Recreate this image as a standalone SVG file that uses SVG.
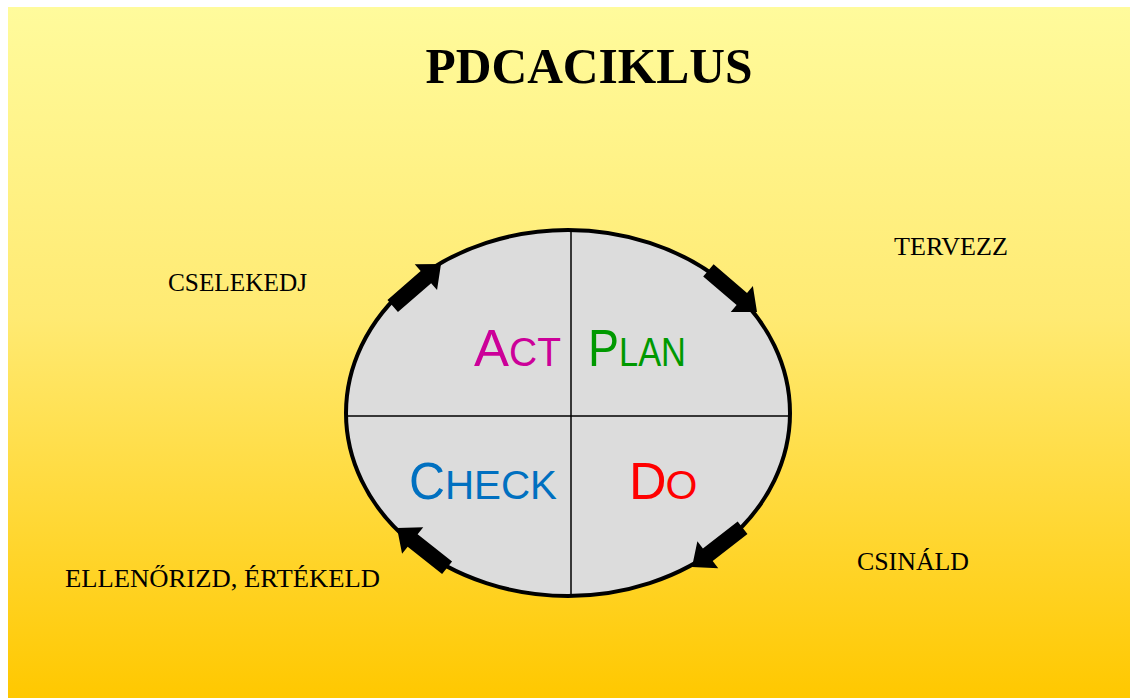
<svg xmlns="http://www.w3.org/2000/svg" width="1130" height="698" viewBox="0 0 1130 698">
<defs>
<linearGradient id="bg" x1="0" y1="0" x2="0" y2="1">
<stop offset="0" stop-color="#FFFB9C"/>
<stop offset="0.45" stop-color="#FFEA72"/>
<stop offset="1" stop-color="#FFC800"/>
</linearGradient>
<path id="arr" d="M0,0 L-20,-17 L-20,-8 L-64,-8 L-64,8 L-20,8 L-20,17 Z" fill="#000"/>
<style>
.lbl{font-family:"Liberation Serif","Times New Roman",serif;font-size:25px;fill:#000}
.big{font-family:"Liberation Sans",Arial,sans-serif;font-size:52px}
.sm{font-family:"Liberation Sans",Arial,sans-serif;font-size:41px}
.div{stroke:#000;stroke-width:1.5}
</style>
</defs>
<rect x="0" y="0" width="1130" height="698" fill="#fff"/>
<rect x="8" y="7" width="1122" height="691" fill="url(#bg)"/>
<text x="589" y="83" text-anchor="middle" font-family="'Liberation Serif','Times New Roman',serif" font-weight="bold" font-size="50" textLength="327" lengthAdjust="spacingAndGlyphs">PDCACIKLUS</text>
<g id="cycle">
<ellipse cx="568" cy="413" rx="222" ry="183" fill="#DCDCDC" stroke="#000" stroke-width="4"/>
<line class="div" x1="571" y1="231" x2="571" y2="596"/>
<line class="div" x1="347" y1="416" x2="789" y2="416"/>
</g>
<g id="act" fill="#CC0099">
<text class="big" x="474" y="366" textLength="35" lengthAdjust="spacingAndGlyphs">A</text>
<text class="sm" x="509" y="366" textLength="52" lengthAdjust="spacingAndGlyphs">CT</text>
</g>
<g id="plan" fill="#009900">
<text class="big" x="588" y="366" textLength="31" lengthAdjust="spacingAndGlyphs">P</text>
<text class="sm" x="619" y="366" textLength="67" lengthAdjust="spacingAndGlyphs">LAN</text>
</g>
<g id="check" fill="#0070C0">
<text class="big" x="409" y="499" textLength="36" lengthAdjust="spacingAndGlyphs">C</text>
<text class="sm" x="445" y="499" textLength="112" lengthAdjust="spacingAndGlyphs">HECK</text>
</g>
<g id="do" fill="#FF0000">
<text class="big" x="629" y="499" font-size="50">D</text>
<text class="sm" x="665.5" y="499" font-size="40">O</text>
</g>
<g id="labels">
<text class="lbl" x="168" y="291" textLength="139" lengthAdjust="spacingAndGlyphs">CSELEKEDJ</text>
<text class="lbl" x="894" y="255" textLength="114" lengthAdjust="spacingAndGlyphs">TERVEZZ</text>
<text class="lbl" x="857" y="570" textLength="112" lengthAdjust="spacingAndGlyphs">CSINÁLD</text>
<text class="lbl" x="65" y="587" textLength="315" lengthAdjust="spacingAndGlyphs">ELLENŐRIZD, ÉRTÉKELD</text>
</g>
<g id="connectors">
<use href="#arr" transform="translate(441,264) rotate(-41)"/>
<use href="#arr" transform="translate(757,312) rotate(40.6)"/>
<use href="#arr" transform="translate(692,567) rotate(142.2)"/>
<use href="#arr" transform="translate(397,528) rotate(218.5)"/>
</g>
</svg>
